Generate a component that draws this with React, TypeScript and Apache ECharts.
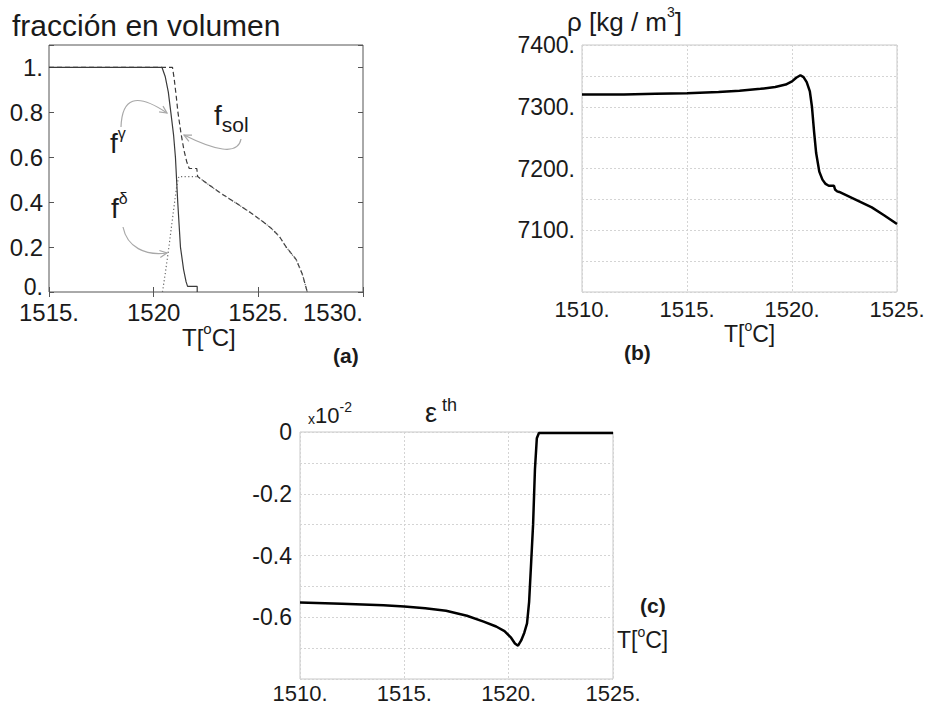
import React, { useEffect, useRef } from 'react';
import * as echarts from 'echarts';

// ---------- Panel (a): fracción en volumen ----------
const fSolT = [1515, 1520.9, 1520.98, 1521.08, 1521.16, 1521.3, 1521.45, 1521.58, 1521.7, 1522.06, 1522.1, 1522.6, 1523.2, 1523.94, 1524.6, 1525.21, 1525.6, 1526.01, 1526.33, 1526.81, 1527.1, 1527.34];
const fSolV = [1, 1, 0.95, 0.87, 0.8, 0.71, 0.63, 0.58, 0.55, 0.55, 0.514, 0.48, 0.44, 0.396, 0.355, 0.314, 0.285, 0.247, 0.2, 0.144, 0.08, 0];
const fGammaT = [1515, 1520.4, 1520.55, 1520.7, 1520.82, 1520.95, 1521.04, 1521.15, 1521.28, 1521.43, 1521.55, 1521.62, 1522.08, 1522.08];
const fGammaV = [1, 1, 0.96, 0.89, 0.8, 0.7, 0.6, 0.4, 0.2, 0.1, 0.045, 0.025, 0.025, 0];
const fDeltaT = [1520.42, 1520.55, 1520.7, 1520.85, 1521.0, 1521.1, 1521.2, 1522.1, 1522.6, 1523.2, 1523.94, 1524.6, 1525.21, 1525.6, 1526.01, 1526.33, 1526.81, 1527.1, 1527.34];
const fDeltaV = [0, 0.08, 0.18, 0.29, 0.4, 0.47, 0.514, 0.514, 0.48, 0.44, 0.396, 0.355, 0.314, 0.285, 0.247, 0.2, 0.144, 0.08, 0];
const xTicksA = [1515, 1520, 1525, 1530];
const yTicksA = [0, 0.2, 0.4, 0.6, 0.8, 1];

// ---------- Panel (b): densidad ----------
const rhoT = [1510, 1512, 1513.5, 1515, 1516.5, 1517.5, 1518.5, 1519.2, 1519.7, 1520.0, 1520.2, 1520.4, 1520.55, 1520.7, 1520.85, 1520.95, 1521.05, 1521.15, 1521.3, 1521.45, 1521.6, 1521.75, 1522.0, 1522.05, 1522.15, 1522.25, 1523.0, 1523.8, 1524.4, 1525];
const rhoV = [7320, 7320, 7321, 7322, 7324, 7326, 7329, 7332, 7336, 7341, 7347, 7351, 7348, 7340, 7325, 7300, 7260, 7225, 7195, 7182, 7175, 7172, 7172, 7166, 7163, 7162, 7150, 7137, 7124, 7110];
const xTicksB = [1510, 1515, 1520, 1525];
const yTicksB = [7100, 7200, 7300, 7400];

// ---------- Panel (c): deformación térmica (x10^-2) ----------
const epsT = [1510, 1512, 1514, 1515, 1516, 1517, 1518, 1518.8, 1519.4, 1519.8, 1520.1, 1520.3, 1520.45, 1520.6, 1520.75, 1520.88, 1520.98, 1521.08, 1521.17, 1521.26, 1521.35, 1521.45, 1525];
const epsV = [-0.552, -0.556, -0.561, -0.565, -0.571, -0.579, -0.595, -0.614, -0.63, -0.645, -0.665, -0.685, -0.692, -0.675, -0.65, -0.62, -0.55, -0.42, -0.3, -0.12, -0.02, -0.003, -0.003];
const xTicksC = [1510, 1515, 1520, 1525];
const yTicksC = [-0.6, -0.4, -0.2, 0];

const zip = (a: number[], b: number[]) => a.map((v, i) => [v, b[i]]);

const FONT = '"Liberation Sans", Arial, Helvetica, sans-serif';
const TXT = '#1a1a1a';

function arrow(p0: number[], c1: number[], c2: number[], p1: number[]) {
  const dx = p1[0] - c2[0];
  const dy = p1[1] - c2[1];
  const L = Math.hypot(dx, dy) || 1;
  const ux = dx / L, uy = dy / L;
  const h = 8, a = 0.45;
  const rot = (ang: number) => [
    p1[0] - h * (ux * Math.cos(ang) - uy * Math.sin(ang)),
    p1[1] - h * (ux * Math.sin(ang) + uy * Math.cos(ang)),
  ];
  const st = { stroke: '#a8a8a8', lineWidth: 1.2, fill: null as any };
  return [
    { type: 'bezierCurve', silent: true, shape: { x1: p0[0], y1: p0[1], cpx1: c1[0], cpy1: c1[1], cpx2: c2[0], cpy2: c2[1], x2: p1[0], y2: p1[1] }, style: st },
    { type: 'polyline', silent: true, shape: { points: [rot(a), p1, rot(-a)] }, style: st },
  ];
}

function txt(x: number, y: number, text: string, rich: any, extra: any = {}) {
  return {
    type: 'text', silent: true, x, y,
    style: { text, rich, fontFamily: FONT, fill: TXT, align: 'left', verticalAlign: 'middle', ...extra },
  };
}

export default function App() {
  const ref = useRef<HTMLDivElement>(null);
  useEffect(() => {
    if (!ref.current) return;
    const chart = echarts.init(ref.current, undefined, { renderer: 'svg' });

    const lblStyle = (size: number) => ({ fontFamily: FONT, fontSize: size, color: TXT });
    const gridLine = { show: true, lineStyle: { color: '#d4d4d4', type: [2, 2] as any, width: 1 } };

    const superRich = (n: number, s: number) => ({
      n: { fontSize: n, fontFamily: FONT, fill: TXT, lineHeight: n + 4, verticalAlign: 'bottom' },
      s: { fontSize: s, fontFamily: FONT, fill: TXT, lineHeight: n + 4, verticalAlign: 'top' },
    });

    const option: any = {
      animation: false,
      backgroundColor: '#ffffff',
      grid: [
        { left: 49, top: 45, width: 314, height: 247, show: true, borderColor: '#555', borderWidth: 1, backgroundColor: 'transparent' },
        { left: 582, top: 45, width: 315, height: 247, show: true, borderColor: '#c8c8c8', borderWidth: 1, backgroundColor: 'transparent' },
        { left: 300, top: 432, width: 313, height: 247, show: true, borderColor: '#c8c8c8', borderWidth: 1, backgroundColor: 'transparent' },
      ],
      xAxis: [
        {
          gridIndex: 0, type: 'value', min: xTicksA[0], max: xTicksA[xTicksA.length - 1], interval: 5, position: 'bottom',
          axisLine: { show: false }, splitLine: { show: false },
          axisTick: { show: true, inside: true, length: 5, lineStyle: { color: '#555' } },
          axisLabel: { ...lblStyle(24), margin: 8, alignMinLabel: 'center', alignMaxLabel: 'right', formatter: (v: number) => (v === 1520 ? '1520' : v + '.') },
        },
        {
          gridIndex: 0, type: 'value', min: xTicksA[0], max: xTicksA[xTicksA.length - 1], interval: 5, position: 'top',
          axisLine: { show: false }, splitLine: { show: false }, axisLabel: { show: false },
          axisTick: { show: true, inside: true, length: 5, lineStyle: { color: '#555' } },
        },
        {
          gridIndex: 1, type: 'value', min: xTicksB[0], max: xTicksB[xTicksB.length - 1], interval: 5,
          axisLine: { show: false }, axisTick: { show: false }, splitLine: gridLine,
          axisLabel: { ...lblStyle(22), margin: 6, formatter: (v: number) => v + '.' },
        },
        {
          gridIndex: 2, type: 'value', min: xTicksC[0], max: xTicksC[xTicksC.length - 1], interval: 5,
          axisLine: { show: false }, axisTick: { show: false }, splitLine: gridLine,
          axisLabel: { ...lblStyle(22), margin: 3, formatter: (v: number) => v + '.' },
        },
      ],
      yAxis: [
        {
          gridIndex: 0, type: 'value', min: 0, max: 1.1, interval: 0.2, position: 'left',
          axisLine: { show: false }, splitLine: { show: false }, showMaxLabel: false,
          axisTick: { show: true, inside: true, length: 5, lineStyle: { color: '#555' } },
          axisLabel: {
            ...lblStyle(24), margin: 6,
            formatter: (v: number) => {
              const r = +v.toFixed(2);
              if (yTicksA.indexOf(r) < 0) return '';
              if (r === 0) return '{z|0.}';
              return r === 1 ? '1.' : r.toFixed(1);
            },
            rich: { z: { fontFamily: FONT, fontSize: 23, color: TXT, lineHeight: 14, padding: [0, 0, 10, 0] } },
          },
        },
        {
          gridIndex: 0, type: 'value', min: 0, max: 1.1, interval: 0.2, position: 'right',
          axisLine: { show: false }, splitLine: { show: false }, axisLabel: { show: false },
          axisTick: { show: true, inside: true, length: 5, lineStyle: { color: '#555' } },
        },
        {
          gridIndex: 1, type: 'value', min: 7000, max: 7400, interval: 100,
          axisLine: { show: false }, axisTick: { show: false }, splitLine: gridLine,
          minorTick: { show: false, splitNumber: 2 }, minorSplitLine: gridLine,
          axisLabel: { ...lblStyle(23), margin: 7, formatter: (v: number) => (yTicksB.indexOf(v) < 0 ? '' : v + '.') },
        },
        {
          gridIndex: 2, type: 'value', min: -0.8, max: 0, interval: 0.2,
          axisLine: { show: false }, axisTick: { show: false }, splitLine: gridLine,
          minorTick: { show: false, splitNumber: 2 }, minorSplitLine: gridLine,
          axisLabel: {
            ...lblStyle(23), margin: 8,
            formatter: (v: number) => {
              const r = +v.toFixed(2);
              if (yTicksC.indexOf(r) < 0) return '';
              return r === 0 ? '0' : r.toFixed(1);
            },
          },
        },
      ],
      series: [
        {
          name: 'f_sol', type: 'line', xAxisIndex: 0, yAxisIndex: 0, data: zip(fSolT, fSolV),
          showSymbol: false, symbol: 'none', lineStyle: { color: '#3a3a3a', width: 1.2, type: [5, 3] },
        },
        {
          name: 'f_delta', type: 'line', xAxisIndex: 0, yAxisIndex: 0, data: zip(fDeltaT, fDeltaV),
          showSymbol: false, symbol: 'none', lineStyle: { color: '#6a6a6a', width: 1.2, type: [1.2, 2.4] },
        },
        {
          name: 'f_gamma', type: 'line', xAxisIndex: 0, yAxisIndex: 0, data: zip(fGammaT, fGammaV),
          showSymbol: false, symbol: 'none', lineStyle: { color: '#3a3a3a', width: 1.2 },
        },
        {
          name: 'rho', type: 'line', xAxisIndex: 2, yAxisIndex: 2, data: zip(rhoT, rhoV),
          showSymbol: false, symbol: 'none', lineStyle: { color: '#000', width: 2.5 },
        },
        {
          name: 'eps', type: 'line', xAxisIndex: 3, yAxisIndex: 3, data: zip(epsT, epsV),
          showSymbol: false, symbol: 'none', lineStyle: { color: '#000', width: 2.5 },
        },
      ],
      graphic: [
        // panel (a)
        txt(12, 25, 'fracción en volumen', undefined, { fontSize: 30 }),
        txt(182, 335, '{n|T[}{s|o}{n|C]}', superRich(24, 15)),
        txt(333, 355, '(a)', undefined, { fontSize: 21, fontWeight: 'bold' }),
        txt(110, 141, '{n|f}{s|γ}', superRich(28, 16)),
        txt(214, 118, '{n|f}{b|sol}', {
          n: { fontSize: 28, fontFamily: FONT, fill: TXT, lineHeight: 34, verticalAlign: 'top' },
          b: { fontSize: 21, fontFamily: FONT, fill: TXT, lineHeight: 34, verticalAlign: 'bottom' },
        }),
        txt(111, 206, '{n|f}{s|δ}', superRich(28, 16)),
        ...arrow([121, 127], [122, 98], [136, 92], [167, 113]),
        ...arrow([241, 139], [238, 156], [214, 150], [184, 135]),
        ...arrow([123, 227], [127, 247], [145, 256], [167, 253]),
        // panel (b)
        txt(567, 20, '{n|ρ [kg / m}{s|3}{n|]}', superRich(26, 14)),
        txt(724, 332, '{n|T[}{s|o}{n|C]}', superRich(23, 14)),
        txt(624, 352, '(b)', undefined, { fontSize: 21, fontWeight: 'bold' }),
        // panel (c)
        txt(308, 413, '{x|x}{n|10}{s|-2}', {
          x: { fontSize: 14, fontFamily: FONT, fill: TXT, lineHeight: 26, verticalAlign: 'bottom' },
          n: { fontSize: 22, fontFamily: FONT, fill: TXT, lineHeight: 26, verticalAlign: 'bottom' },
          s: { fontSize: 14, fontFamily: FONT, fill: TXT, lineHeight: 26, verticalAlign: 'top' },
        }),
        txt(425, 411, '{n|ε}{s| th}', superRich(27, 18)),
        txt(617, 638, '{n|T[}{s|o}{n|C]}', superRich(23, 14)),
        txt(640, 605, '(c)', undefined, { fontSize: 21, fontWeight: 'bold' }),
      ],
    };
    chart.setOption(option);
    return () => chart.dispose();
  }, []);
  return (
    <div
      ref={ref}
      style={{ position: 'fixed', left: 0, top: 0, width: 935, height: 709, background: '#fff' }}
    />
  );
}
